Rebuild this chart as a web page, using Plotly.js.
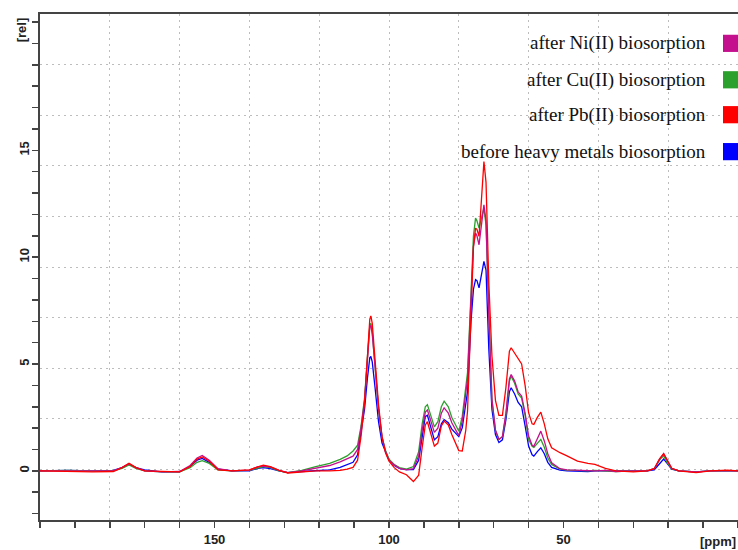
<!DOCTYPE html>
<html>
<head>
<meta charset="utf-8">
<script src="https://cdn.plot.ly/plotly-3.0.1.min.js"></script>
<style>html,body{margin:0;padding:0;background:#fff;}#chart{width:738px;height:550px;}</style>
</head>
<body>
<div id="chart"></div>
<script>
// Chemical shift (ppm) sample points
const ppm = [200,192,185,179,176.5,174.5,172.5,170,165,160,157,155,153.5,151.5,149,145,140,137.5,136,134,131.5,129,125,121,117,114,112,110.3,109,108,107,106.2,105.5,105.2,104.8,104,103,102,101,100,98.5,97,95,93,91.5,90.5,89.6,89,88,87,86,85,84.2,83,82,80,79,78,77.5,76.5,75.8,75.2,74.8,74.2,73.5,72.8,72.2,71.4,70.5,69.5,68.5,67.5,66.5,65.5,65,64,63,62,61,60,59,58.5,57.5,56.5,55.5,54.5,53.4,51,49,46,43,41,38,35,30,26,24,22.5,21.3,20.3,19,17,12,8,3,0];

const cu = [0,0.02,0,0,0.12,0.28,0.12,0,-0.05,-0.05,0.15,0.4,0.48,0.35,0.05,0,0.02,0.15,0.2,0.15,0,-0.08,0.02,0.2,0.35,0.54,0.7,0.93,1.2,2.1,3.4,5.3,6.8,6.9,6.5,4.9,2.9,1.6,0.95,0.55,0.3,0.15,0.08,0.2,0.9,2.2,3.0,3.1,2.6,2.06,2.3,3.0,3.26,3.0,2.5,1.85,2.56,3.8,4.6,8.3,11.0,11.83,11.7,11.36,11.8,12.3,11.5,7.2,3.3,1.9,1.47,1.6,2.6,4.2,4.43,4.1,3.6,3.4,2.6,1.47,1.15,1.1,1.3,1.47,1.1,0.6,0.3,0.08,0.03,0,0,0.02,0,-0.03,0,0,0.1,0.5,0.7,0.4,0.1,0,-0.05,0,0,0];

const ni = [0,0,0,0,0.15,0.33,0.15,0,-0.05,-0.03,0.25,0.6,0.72,0.5,0.1,0,0.03,0.2,0.22,0.18,0.02,-0.08,0,0.12,0.25,0.42,0.55,0.69,1.0,2.0,3.3,5.4,6.75,6.8,6.4,4.9,2.9,1.55,0.9,0.5,0.28,0.12,0.05,0.1,0.7,1.9,2.75,2.85,2.35,1.8,2.0,2.7,2.95,2.7,2.25,1.65,2.33,3.5,4.3,8.1,10.5,11.13,11.0,10.58,11.5,12.45,11.7,7.2,3.35,1.9,1.47,1.6,2.7,4.3,4.51,4.2,3.7,3.5,2.7,1.63,1.2,1.15,1.5,1.86,1.4,0.8,0.38,0.1,0.05,0.02,0,0,0.02,-0.03,0,0,0.1,0.55,0.8,0.5,0.12,0,-0.05,0,0,0];

const pb = [0,-0.03,-0.05,-0.03,0.15,0.35,0.15,0,-0.03,-0.05,0.2,0.55,0.65,0.45,0.05,0,0.05,0.2,0.27,0.2,0.02,-0.1,-0.05,0,0,0.02,0.08,0.16,0.5,1.63,3.2,5.6,7.1,7.25,6.9,5.2,3.1,1.6,0.85,0.45,0.15,-0.05,-0.18,-0.5,-0.2,1.1,2.15,2.3,1.7,1.16,1.3,2.1,2.33,2.15,1.7,0.95,0.93,1.9,2.8,7.0,10.5,11.36,11.3,10.97,12.8,14.48,13.5,8.8,5.36,3.3,2.6,2.6,3.9,5.6,5.76,5.5,5.25,5.0,4.0,2.72,2.2,2.17,2.5,2.75,2.2,1.5,1.08,0.85,0.7,0.46,0.35,0.3,0.12,0,-0.05,0,0.1,0.55,0.8,0.5,0.12,0,-0.08,0,0.03,0];

const before = [0,0.02,0,0.02,0.15,0.3,0.15,0.05,-0.05,-0.05,0.2,0.5,0.58,0.4,0.08,0,0,0.12,0.15,0.1,0,-0.08,-0.03,0,0.05,0.16,0.28,0.4,0.75,1.8,2.9,4.3,5.3,5.35,5.1,3.9,2.3,1.3,0.85,0.5,0.25,0.12,0.06,0.06,0.5,1.6,2.55,2.6,2.0,1.45,1.6,2.2,2.4,2.25,1.95,1.6,2.02,3.1,3.7,7.0,8.5,8.95,8.9,8.56,9.2,9.8,9.4,5.7,2.87,1.7,1.33,1.45,2.4,3.7,3.89,3.6,3.2,3.0,2.1,1.16,0.75,0.69,0.9,1.08,0.8,0.4,0.16,0.03,0,-0.02,-0.03,0,0,-0.03,0,0,0.05,0.35,0.55,0.35,0.08,0,-0.05,0,0,0];

const seriesNames = ["after Ni(II) biosorption","after Cu(II) biosorption","after Pb(II) biosorption","before heavy metals biosorption"];
const seriesColors = ["#c4108e","#2ca02c","#ff0000","#0000ff"];
const seriesData = [ni, cu, pb, before];

const xTickVals = []; for (let v = 0; v <= 200; v += 10) xTickVals.push(v);
const xTickText = xTickVals.map(v => (v === 50 || v === 100 || v === 150) ? String(v) : "");
const yTickVals = []; for (let v = -2; v <= 21; v += 1) yTickVals.push(v);
const yTickText = yTickVals.map(v => (v === 0 || v === 5 || v === 10 || v === 15) ? String(v) : "");

const drawOrder = [3, 1, 0, 2];
const traces = drawOrder.map(i => ({
  x: ppm, y: seriesData[i], type: "scatter", mode: "lines", name: seriesNames[i],
  line: {color: seriesColors[i], width: 1.3}, showlegend: false, hoverinfo: "skip"
}));
traces.unshift({x: [], y: [], xaxis: "x2", yaxis: "y2", type: "scatter", mode: "lines", showlegend: false, hoverinfo: "skip"});

const tickFont = {family: "Liberation Sans, Arial, sans-serif", size: 13, color: "#222", weight: "bold"};

const annotations = [];
const shapes = [];
const legendY = [0.942, 0.870, 0.801, 0.728];
seriesNames.forEach((n, i) => {
  annotations.push({xref: "paper", yref: "paper", x: 0.957, y: legendY[i], xanchor: "right", yanchor: "middle",
    text: n, showarrow: false, font: {family: "Liberation Serif, Times New Roman, serif", size: 19, color: "#111"}});
  shapes.push({type: "rect", xref: "paper", yref: "paper", x0: 0.9785, x1: 1.01, y0: legendY[i] - 0.017, y1: legendY[i] + 0.017,
    fillcolor: seriesColors[i], line: {width: 0}});
});
annotations.push({xref: "paper", yref: "paper", x: -0.027, y: 0.968, xanchor: "center", yanchor: "middle", textangle: -90,
  text: "[rel]", showarrow: false, font: tickFont});
annotations.push({xref: "paper", yref: "paper", x: 1.0, y: -0.024, xanchor: "right", yanchor: "top",
  text: "[ppm]", showarrow: false, font: tickFont});

const gridDash = "1.5px,4.5px";
const layout = {
  width: 738, height: 550,
  margin: {l: 40, r: 0, t: 14, b: 30},
  paper_bgcolor: "#fff", plot_bgcolor: "#fff",
  showlegend: false,
  xaxis: {range: [200, 0], tickvals: xTickVals, ticktext: xTickText, ticks: "outside", ticklen: 6, tickwidth: 1.5,
    tickcolor: "#444", showgrid: false, zeroline: false, showline: true, linecolor: "#444", linewidth: 2, mirror: true,
    tickfont: tickFont, ticklabelstandoff: 0},
  yaxis: {range: [-2.3, 21.38], tickvals: yTickVals, ticktext: yTickText, ticks: "outside", ticklen: 6, tickwidth: 1.5,
    tickcolor: "#444", showgrid: false, zeroline: false, showline: true, linecolor: "#444", linewidth: 2,
    tickfont: tickFont, tickangle: -90, ticklabelstandoff: -2},
  xaxis2: {overlaying: "x", range: [0, 10], dtick: 1, tick0: 0, showgrid: true, gridcolor: "#bdbdbd", griddash: gridDash, gridwidth: 1,
    showticklabels: false, ticks: "", zeroline: false, showline: false, side: "top"},
  yaxis2: {overlaying: "y", range: [0, 10], dtick: 1, tick0: 0, showgrid: true, gridcolor: "#bdbdbd", griddash: gridDash, gridwidth: 1,
    showticklabels: false, ticks: "", zeroline: false, showline: false, side: "right"},
  annotations: annotations,
  shapes: shapes
};

Plotly.newPlot("chart", traces, layout, {displayModeBar: false, staticPlot: true});
</script>
</body>
</html>
